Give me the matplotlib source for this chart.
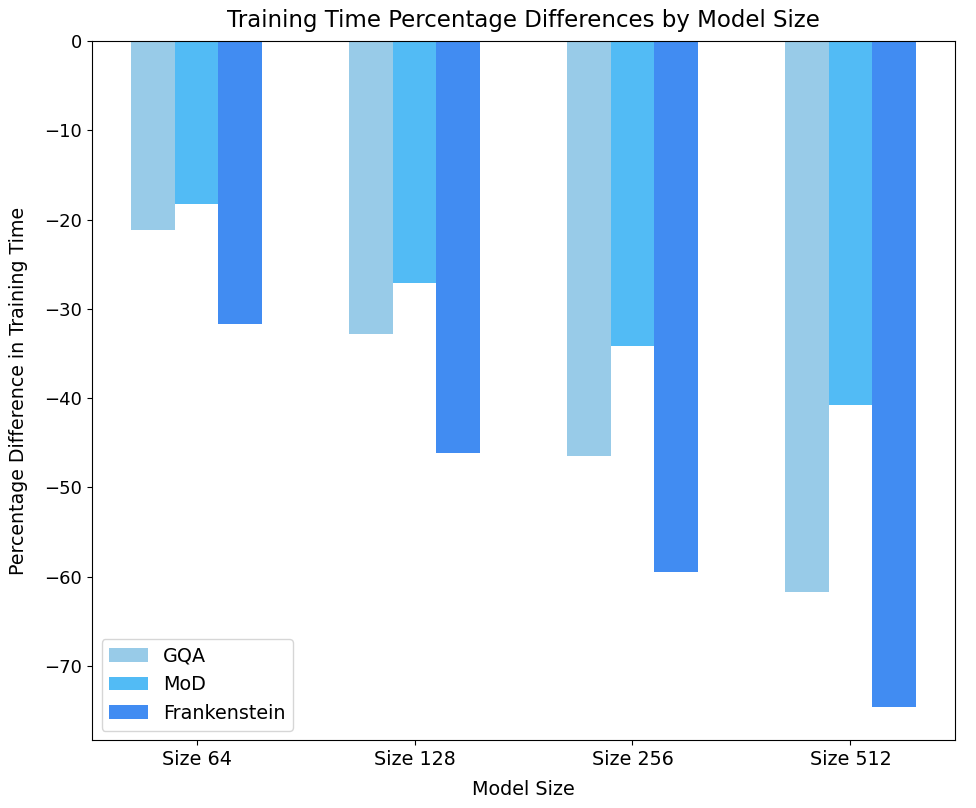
import matplotlib
matplotlib.use("Agg")
import matplotlib.pyplot as plt
import numpy as np

categories = ["Size 64", "Size 128", "Size 256", "Size 512"]
series_names = ["GQA", "MoD", "Frankenstein"]
gqa = [-21.2, -32.8, -46.5, -61.7]
mod = [-18.3, -27.1, -34.2, -40.8]
frank = [-31.7, -46.1, -59.5, -74.6]
colors = ["#98CBE8", "#52BBF5", "#418CF2"]

fig = plt.figure(figsize=(9.76, 8.08), dpi=100)
ax = fig.add_axes([0.0943, 0.084, 0.8842, 0.865])
x = np.arange(len(categories))
w = 0.2
for i, (vals, name) in enumerate(zip([gqa, mod, frank], series_names)):
    ax.bar(x + (i - 1) * w, vals, w, label=name, color=colors[i])
ax.set_xticks(x)
ax.set_xticklabels(categories, fontsize=13.8)
ax.tick_params(axis="y", labelsize=13)
ax.set_xlabel("Model Size", fontsize=13.8, labelpad=8)
ax.set_ylabel("Percentage Difference in Training Time", fontsize=13.7, labelpad=12)
ax.set_title("Training Time Percentage Differences by Model Size", fontsize=16.5, pad=10)
ax.legend(loc="lower left", fontsize=13.8)
fig.savefig("out.png", dpi=100)
